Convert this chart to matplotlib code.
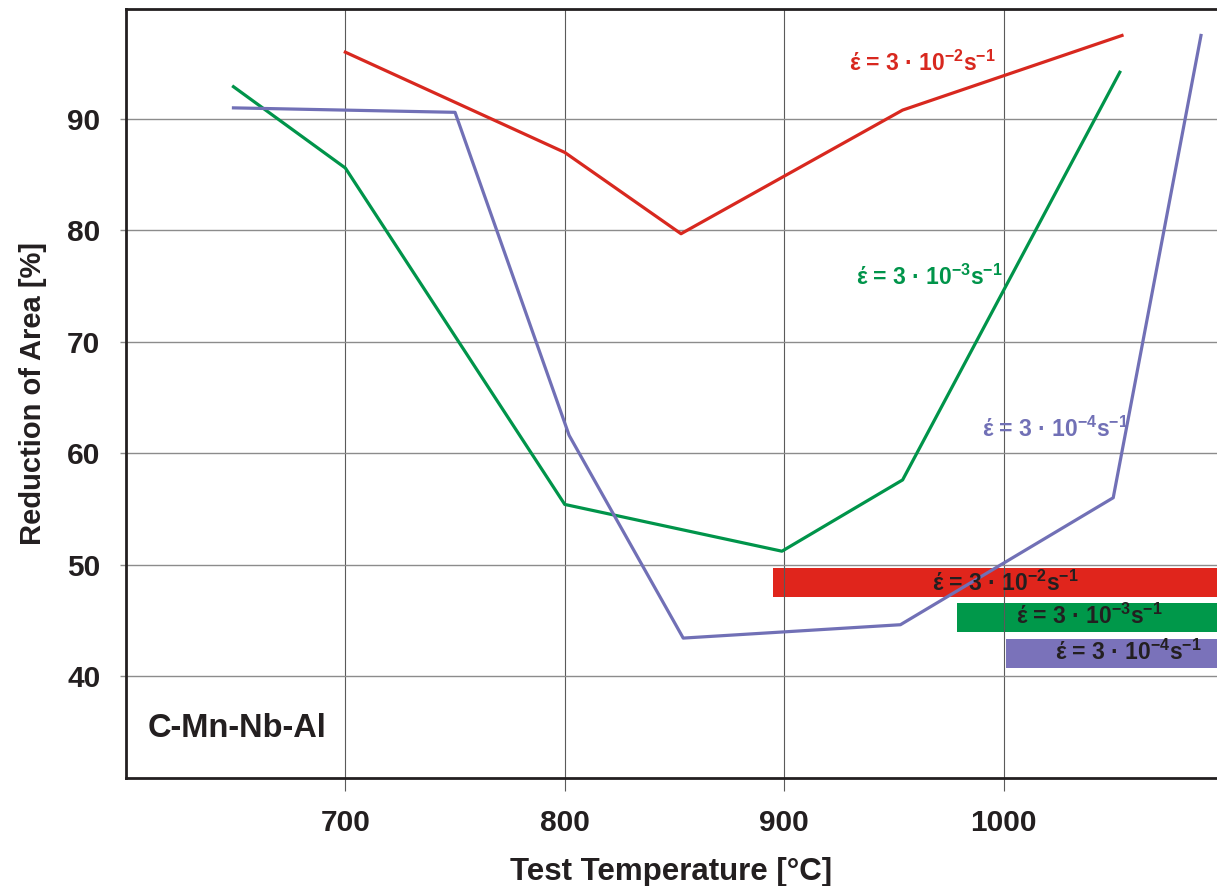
import matplotlib
matplotlib.use('Agg')
import matplotlib.pyplot as plt

# hot ductility of C-Mn-Nb-Al steel at three strain rates
temp_red = [700, 800, 853, 954, 1054]
ra_red = [96.0, 87.0, 79.7, 90.8, 97.5]

temp_green = [649, 700, 800, 899, 954, 1053]
ra_green = [92.9, 85.6, 55.4, 51.2, 57.6, 94.2]

temp_blue = [649, 750, 802, 854, 953, 1050, 1090]
ra_blue = [91.0, 90.6, 61.6, 43.4, 44.6, 56.0, 97.5]

rate_labels = [r'έ = 3 · 10$^{\mathbf{-2}}$s$^{\mathbf{-1}}$',
               r'έ = 3 · 10$^{\mathbf{-3}}$s$^{\mathbf{-1}}$',
               r'έ = 3 · 10$^{\mathbf{-4}}$s$^{\mathbf{-1}}$']

x_ticks = [700, 800, 900, 1000]
y_ticks = [40, 50, 60, 70, 80, 90]

RED = '#d8281f'
GREEN = '#00944a'
BLUE = '#7170b6'
INK = '#231f20'


def main():
    plt.rcParams['font.family'] = ['Liberation Sans', 'DejaVu Sans']
    plt.rcParams['font.weight'] = 'bold'
    plt.rcParams['axes.labelweight'] = 'bold'
    plt.rcParams['mathtext.fontset'] = 'custom'
    plt.rcParams['mathtext.bf'] = 'Liberation Sans:bold'
    plt.rcParams['mathtext.rm'] = 'Liberation Sans:bold'

    fig = plt.figure(figsize=(12.17, 8.86), dpi=100)
    ax = fig.add_axes([0.1035, 0.1219, 0.8965, 0.8685])

    # curves
    ax.plot(temp_red, ra_red, color=RED, lw=2.3, zorder=2)
    ax.plot(temp_green, ra_green, color=GREEN, lw=2.3, zorder=2)
    ax.plot(temp_blue, ra_blue, color=BLUE, lw=2.3, zorder=2)

    # labels next to the curves
    ax.text(963, 95.0, rate_labels[0], color=RED, fontsize=16.5, ha='center', va='center', zorder=3)
    ax.text(966, 75.8, rate_labels[1], color=GREEN, fontsize=16.5, ha='center', va='center', zorder=3)
    ax.text(1023.5, 62.1, rate_labels[2], color=BLUE, fontsize=16.5, ha='center', va='center', zorder=3)

    # coloured key bars at lower right
    ax.barh(48.4, 400, left=895, height=2.6, color='#e0251c', zorder=0.3)
    ax.barh(45.25, 400, left=979, height=2.6, color='#00984a', zorder=0.3)
    ax.barh(42.0, 400, left=1001, height=2.6, color='#7a72ba', zorder=0.3)
    ax.text(1001, 48.35, rate_labels[0], color=INK, fontsize=16.5, ha='center', va='center', zorder=3)
    ax.text(1039, 45.4, rate_labels[1], color=INK, fontsize=16.5, ha='center', va='center', zorder=3)
    ax.text(1056.7, 42.1, rate_labels[2], color=INK, fontsize=16.5, ha='center', va='center', zorder=3)

    ax.text(610, 35.3, 'C-Mn-Nb-Al', color=INK, fontsize=23.5, ha='left', va='center')

    ax.set_xlim(600, 1097.3)
    ax.set_ylim(30.84, 99.92)
    ax.set_xticks(x_ticks)
    ax.set_yticks(y_ticks)
    ax.set_axisbelow(True)
    ax.xaxis.grid(True, color='#5a5a5a', lw=0.8)
    ax.yaxis.grid(True, color='#8c8c8c', lw=1.0)
    ax.tick_params(axis='x', length=9, width=0.8, color='#5a5a5a', pad=13,
                   labelsize=21.5, labelcolor=INK)
    ax.tick_params(axis='y', length=4.5, width=1.0, color='#8c8c8c', pad=14,
                   labelsize=21.5, labelcolor=INK)

    for side in ['left', 'bottom', 'top']:
        ax.spines[side].set_color(INK)
        ax.spines[side].set_linewidth(2.0)
    ax.spines['right'].set_visible(False)

    ax.set_xlabel('Test Temperature [°C]', fontsize=22.5, color=INK, labelpad=15)
    ax.set_ylabel('Reduction of Area [%]', fontsize=21, color=INK, labelpad=14)

    fig.savefig('out.png', dpi=100)


if __name__ == "__main__":
    main()
